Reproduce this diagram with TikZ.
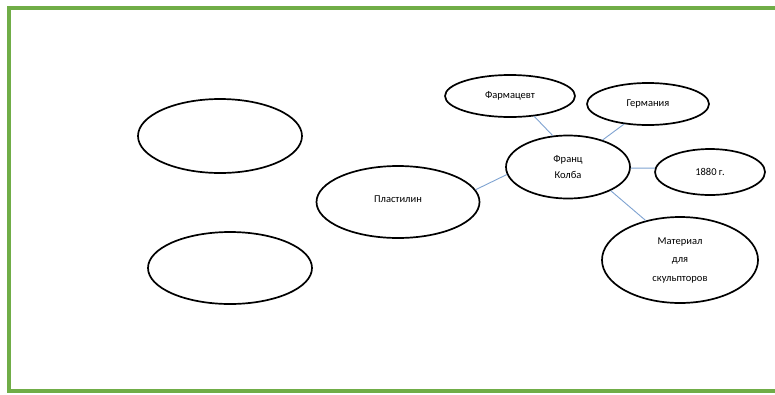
\documentclass[tikz,border=0pt]{standalone}
\usepackage{fontspec}
\setmainfont{Carlito}
\usetikzlibrary{shapes.geometric}
\definecolor{framegreen}{HTML}{70AD47}
\definecolor{linkblue}{HTML}{7FA3D1}
\tikzset{
  oval/.style={ellipse, draw=black, line width=1.7pt, inner sep=0pt, align=center, font=\fontsize{10.5}{18.5}\selectfont},
  link/.style={draw=linkblue, line width=0.9pt}
}
\begin{document}
\begin{tikzpicture}[x=1pt, y=-1pt]
\clip (0,0) rectangle (775,394);
\fill[white] (0,0) rectangle (775,394);
\draw[framegreen, line width=4pt] (8.5,7.5) rectangle (790,390.5);

\node[oval, minimum width=130pt, minimum height=42pt] (farm) at (510,96) {\raisebox{2pt}{Фармацевт}};
\node[oval, minimum width=122pt, minimum height=42pt] (germ) at (648,104) {Германия};
\node[oval, minimum width=124pt, minimum height=63pt, font=\fontsize{10.5}{15.5}\selectfont] (kolb) at (568,167) {Франц\\Колба};
\node[oval, minimum width=110pt, minimum height=46pt] (year) at (710,172) {1880 г.};
\node[oval, minimum width=156pt, minimum height=86pt] (mat) at (680,260) {Материал\\для\\скульпторов};
\node[oval, minimum width=163pt, minimum height=72pt] (plast) at (398,202) {\raisebox{6pt}{Пластилин}};
\node[oval, minimum width=164pt, minimum height=74pt] (e1) at (220,136) {};
\node[oval, minimum width=164pt, minimum height=72pt] (e2) at (230,268) {};

\draw[link] (farm.-40) -- (kolb.116);
\draw[link] (germ.-140) -- (kolb.38);
\draw[link] (kolb.-1) -- (year.176);
\draw[link] (kolb.-29) -- (mat.131);
\draw[link] (plast.9) -- (kolb.187);
\end{tikzpicture}
\end{document}
